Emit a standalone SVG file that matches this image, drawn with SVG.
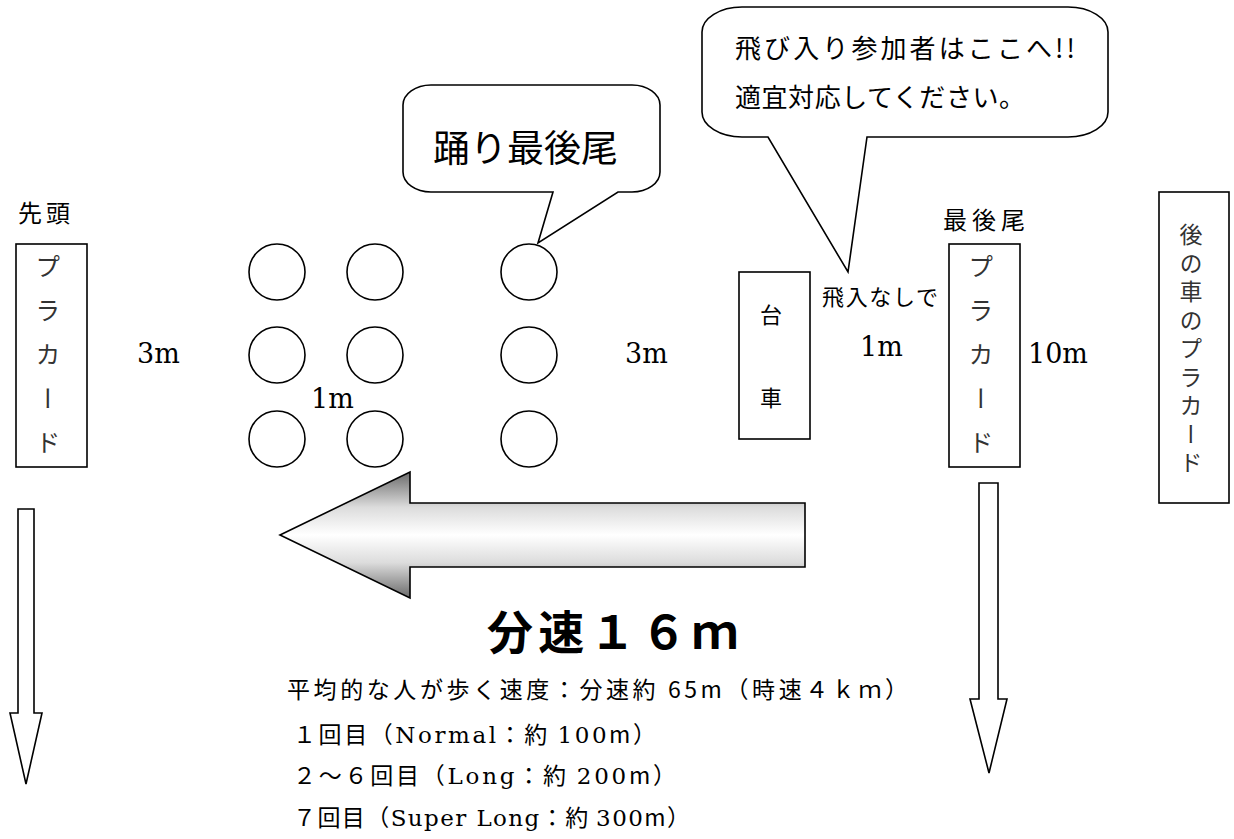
<svg xmlns="http://www.w3.org/2000/svg" width="1234" height="839" viewBox="0 0 1234 839">
<defs>
<linearGradient id="grayGrad" x1="0" y1="0" x2="0" y2="1">
<stop offset="0" stop-color="#6a6a6a"/>
<stop offset="0.28" stop-color="#dcdcdc"/>
<stop offset="0.5" stop-color="#ffffff"/>
<stop offset="0.72" stop-color="#dcdcdc"/>
<stop offset="1" stop-color="#6a6a6a"/>
</linearGradient>
</defs>
<style>
.shape{fill:#fff;stroke:#000;stroke-width:1.6}
.jp{font-family:"Noto Sans CJK JP","Noto Sans",sans-serif;fill:#000}
.lt{font-family:"Noto Sans CJK JP","Noto Sans",sans-serif;fill:#333}
.ser{font-family:"DejaVu Serif","Liberation Serif",serif;fill:#000}
.vt{writing-mode:vertical-rl;text-anchor:start}
</style>
<rect width="1234" height="839" fill="#fff"/>

<g id="head-placard">
<text class="jp" x="18" y="222" font-size="24" letter-spacing="4">先頭</text>
<rect class="shape" x="16" y="244" width="71" height="223"/>
<text class="lt vt" x="48" y="254" font-size="25" letter-spacing="19">プラカード</text>
</g>

<g id="dancers">
<circle class="shape" cx="277" cy="272" r="28"/>
<circle class="shape" cx="375" cy="272" r="28"/>
<circle class="shape" cx="529" cy="272" r="28"/>
<circle class="shape" cx="277" cy="355" r="28"/>
<circle class="shape" cx="375" cy="355" r="28"/>
<circle class="shape" cx="529" cy="355" r="28"/>
<circle class="shape" cx="277" cy="439" r="28"/>
<circle class="shape" cx="375" cy="439" r="28"/>
<circle class="shape" cx="529" cy="439" r="28"/>
</g>

<g id="callout-dance-tail">
<path class="shape" d="M431,85 H632 A28 20 0 0 1 660,105 V172 A28 20 0 0 1 632,192 H618 L538,243 L553,192 H431 A28 20 0 0 1 403,172 V105 A28 20 0 0 1 431,85 Z"/>
<text class="jp" x="433" y="162" font-size="37" textLength="185" lengthAdjust="spacing">踊り最後尾</text>
</g>

<g id="callout-joiners">
<path class="shape" d="M742,7 H1068 A40 25 0 0 1 1108,32 V112 A40 25 0 0 1 1068,137 H867 L848,272 L768,137 H742 A40 25 0 0 1 702,112 V32 A40 25 0 0 1 742,7 Z"/>
<text class="jp" x="735" y="58" font-size="26" textLength="340" lengthAdjust="spacing">飛び入り参加者はここへ!!</text>
<text class="jp" x="735" y="107" font-size="26" textLength="290" lengthAdjust="spacing">適宜対応してください。</text>
</g>

<g id="cart">
<rect class="shape" x="739" y="272" width="71" height="167"/>
<text class="jp" x="771" y="323" font-size="22" text-anchor="middle">台</text>
<text class="jp" x="771" y="406" font-size="22" text-anchor="middle">車</text>
</g>

<g id="tail-placard">
<text class="jp" x="943" y="229" font-size="24" letter-spacing="5">最後尾</text>
<rect class="shape" x="949" y="244" width="71" height="223"/>
<text class="lt vt" x="981" y="254" font-size="25" letter-spacing="19">プラカード</text>
</g>

<g id="next-car-placard">
<rect class="shape" x="1159" y="192" width="70" height="311"/>
<text class="lt vt" x="1191" y="223" font-size="23" letter-spacing="5.5">後の車のプラカード</text>
</g>

<g id="labels">
<text class="ser" x="137" y="363" font-size="27">3m</text>
<text class="ser" x="625" y="363" font-size="27">3m</text>
<text class="ser" x="311" y="408" font-size="27">1m</text>
<text class="jp" x="822" y="305" font-size="22" textLength="116" lengthAdjust="spacing">飛入なしで</text>
<text class="ser" x="860" y="356" font-size="27">1m</text>
<text class="ser" x="1028" y="363" font-size="27">10m</text>
</g>

<g id="connectors">
<path d="M280,535 L410,472 V503 H805 V567 H410 V598 Z" fill="url(#grayGrad)" stroke="#000" stroke-width="1.6"/>
<path class="shape" d="M18,509 H34 V713 H42 L26,784 L10,713 H18 Z"/>
<path class="shape" d="M979,483 H998 V699 H1007 L989,773 L970,699 H979 Z"/>
</g>

<g id="speed-info">
<text class="jp" x="487" y="649" font-size="46" font-weight="700" textLength="251" lengthAdjust="spacing">分速１６ｍ</text>
<text class="jp" x="287" y="698" font-size="23" textLength="621" lengthAdjust="spacing">平均的な人が歩く速度：分速約 65m（時速４ｋｍ）</text>
<text class="jp" x="293" y="743" font-size="23" textLength="363" lengthAdjust="spacing">１回目（<tspan class="ser">Normal</tspan>：約 <tspan class="ser">100</tspan>m）</text>
<text class="jp" x="293" y="784" font-size="23" textLength="383" lengthAdjust="spacing">２～６回目（<tspan class="ser">Long</tspan>：約 <tspan class="ser">200</tspan>m）</text>
<text class="jp" x="293" y="826" font-size="23" textLength="397" lengthAdjust="spacing">７回目（<tspan class="ser">Super Long</tspan>：約 <tspan class="ser">300</tspan>m）</text>
</g>
</svg>
